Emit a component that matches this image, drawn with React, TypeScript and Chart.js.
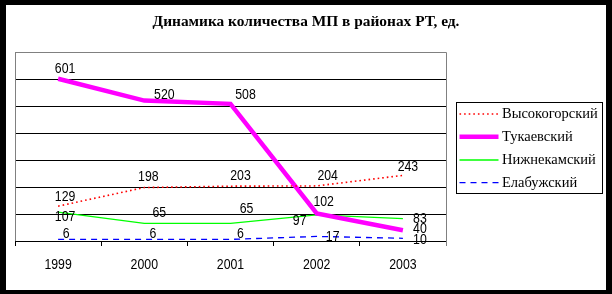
import React, { useEffect, useRef } from "react";
import { Chart, registerables } from "chart.js";

Chart.register(...registerables);

// ---- data ----
const title = "Динамика количества МП в районах РТ, ед.";
const years = ["1999", "2000", "2001", "2002", "2003"];
const seriesNames = ["Высокогорский", "Тукаевский", "Нижнекамский", "Елабужский"];
const vysokogorsky = [129, 198, 203, 204, 243];
const tukaevsky = [601, 520, 508, 102, 40];
const nizhnekamsky = [107, 65, 65, 97, 83];
const elabuzhsky = [6, 6, 6, 17, 10];
const yMin = 0;
const yMax = 700;
const yStep = 100;

// ---- styling (label offsets relative to each point, px) ----
const labelOffsets: number[][][] = [
  [[7, -9], [4, -11], [10, -10], [11, -10], [5, -9]],
  [[7, -9.5], [20, -6], [15, -9], [7, -12], [17, -1]],
  [[7, 5], [15, -11], [16, -15], [-17, 6], [17, 0.6]],
  [[8, -5.4], [8.6, -5.4], [10, -5.4], [16, 0.3], [17, 1.7]],
];

const SANS = '"Liberation Sans", Arial, sans-serif';
const SERIF = '"Liberation Serif", "Times New Roman", serif';
const NARROW = 0.82;

function drawCondensed(ctx: CanvasRenderingContext2D, text: string, x: number, y: number) {
  ctx.save();
  ctx.translate(x, y);
  ctx.scale(NARROW, 1);
  ctx.fillText(text, 0, 0);
  ctx.restore();
}

const frameBorder = {
  id: "frameBorder",
  beforeDatasetsDraw(chart: any) {
    const { ctx, chartArea } = chart;
    const { left, right, top, bottom } = chartArea;
    ctx.save();
    ctx.strokeStyle = "#808080";
    ctx.lineWidth = 1;
    ctx.beginPath();
    ctx.moveTo(Math.round(left) + 0.5, bottom);
    ctx.lineTo(Math.round(left) + 0.5, Math.round(top) + 0.5);
    ctx.lineTo(Math.round(right) + 0.5, Math.round(top) + 0.5);
    ctx.lineTo(Math.round(right) + 0.5, bottom + 5);
    ctx.stroke();
    ctx.restore();
  },
};

const titleAndTicks = {
  id: "titleAndTicks",
  afterDraw(chart: any) {
    const { ctx } = chart;
    ctx.save();
    ctx.fillStyle = "#000";
    ctx.textAlign = "center";
    ctx.textBaseline = "middle";
    ctx.font = `bold 15.4px ${SERIF}`;
    ctx.fillText(title, chart.width / 2, 17);
    const xs = chart.scales.x;
    ctx.font = `15px ${SANS}`;
    xs.ticks.forEach((t: any, i: number) => {
      drawCondensed(ctx, String(xs.getLabelForValue(t.value)), xs.getPixelForTick(i), xs.top + 24);
    });
    ctx.restore();
  },
};

const valueLabels = {
  id: "valueLabels",
  afterDatasetsDraw(chart: any) {
    const { ctx } = chart;
    ctx.save();
    ctx.font = `15px ${SANS}`;
    ctx.fillStyle = "#000";
    ctx.textAlign = "center";
    ctx.textBaseline = "middle";
    chart.data.datasets.forEach((ds: any, di: number) => {
      const meta = chart.getDatasetMeta(di);
      meta.data.forEach((pt: any, i: number) => {
        const off = labelOffsets[di][i];
        drawCondensed(ctx, String(ds.data[i]), pt.x + off[0], pt.y + off[1]);
      });
    });
    ctx.restore();
  },
};

const customLegend = {
  id: "customLegend",
  afterDraw(chart: any) {
    const { ctx, chartArea } = chart;
    const bx = Math.round(chartArea.right) + 10.5;
    const by = 97.5;
    const bw = 146;
    const bh = 91;
    ctx.save();
    ctx.strokeStyle = "#000";
    ctx.lineWidth = 1;
    ctx.setLineDash([]);
    ctx.strokeRect(bx, by, bw, bh);
    const rowY = [109, 131.7, 155, 177.7];
    ctx.font = `14.5px ${SERIF}`;
    ctx.textAlign = "left";
    ctx.textBaseline = "middle";
    chart.data.datasets.forEach((ds: any, i: number) => {
      const y = rowY[i];
      ctx.save();
      ctx.strokeStyle = ds.borderColor;
      ctx.lineWidth = ds.borderWidth;
      ctx.setLineDash(ds.borderDash || []);
      ctx.beginPath();
      ctx.moveTo(bx + 3, y);
      ctx.lineTo(bx + 42, y);
      ctx.stroke();
      ctx.restore();
      ctx.fillStyle = "#000";
      ctx.fillText(ds.label, bx + 45.5, y);
    });
    ctx.restore();
  },
};

export default function App() {
  const ref = useRef<HTMLCanvasElement>(null);
  useEffect(() => {
    if (!ref.current) return;
    const chart = new Chart(ref.current, {
      type: "line",
      data: {
        labels: years,
        datasets: [
          { label: seriesNames[0], data: vysokogorsky, borderColor: "#FF0000", borderWidth: 1.6, borderDash: [1.6, 3], pointRadius: 0, tension: 0 },
          { label: seriesNames[1], data: tukaevsky, borderColor: "#FF00FF", borderWidth: 4.5, pointRadius: 0, tension: 0 },
          { label: seriesNames[2], data: nizhnekamsky, borderColor: "#00FF00", borderWidth: 1.3, pointRadius: 0, tension: 0 },
          { label: seriesNames[3], data: elabuzhsky, borderColor: "#0000FF", borderWidth: 1.3, borderDash: [6, 5], pointRadius: 0, tension: 0 },
        ],
      },
      options: {
        responsive: false,
        animation: false,
        devicePixelRatio: 1,
        layout: { padding: { left: 9, right: 160, top: 47, bottom: 0 } },
        plugins: {
          legend: { display: false },
          tooltip: { enabled: false },
          title: { display: false },
        },
        scales: {
          x: {
            offset: true,
            grid: { offset: true, drawOnChartArea: false, tickLength: 5, color: "#000" },
            border: { color: "#000", width: 1 },
            ticks: { display: false, maxRotation: 0 },
            afterFit: (s: any) => { s.height = 49; },
          },
          y: {
            min: yMin,
            max: yMax,
            ticks: { display: false, stepSize: yStep },
            grid: {
              drawTicks: false,
              color: (c: any) => (c.tick && c.tick.value === yMax ? "#808080" : "#000"),
            },
            border: { display: false },
            afterFit: (s: any) => { s.width = 0; },
          },
        },
      },
      plugins: [frameBorder, valueLabels, customLegend, titleAndTicks],
    });
    return () => chart.destroy();
  }, []);

  return (
    <div
      style={{
        position: "fixed",
        left: 0,
        top: 0,
        width: 600,
        height: 285,
        borderStyle: "solid",
        borderColor: "#000",
        borderWidth: "5px 6px 4px 6px",
        background: "#fff",
      }}
    >
      <canvas ref={ref} width={600} height={285} style={{ display: "block" }} />
    </div>
  );
}
